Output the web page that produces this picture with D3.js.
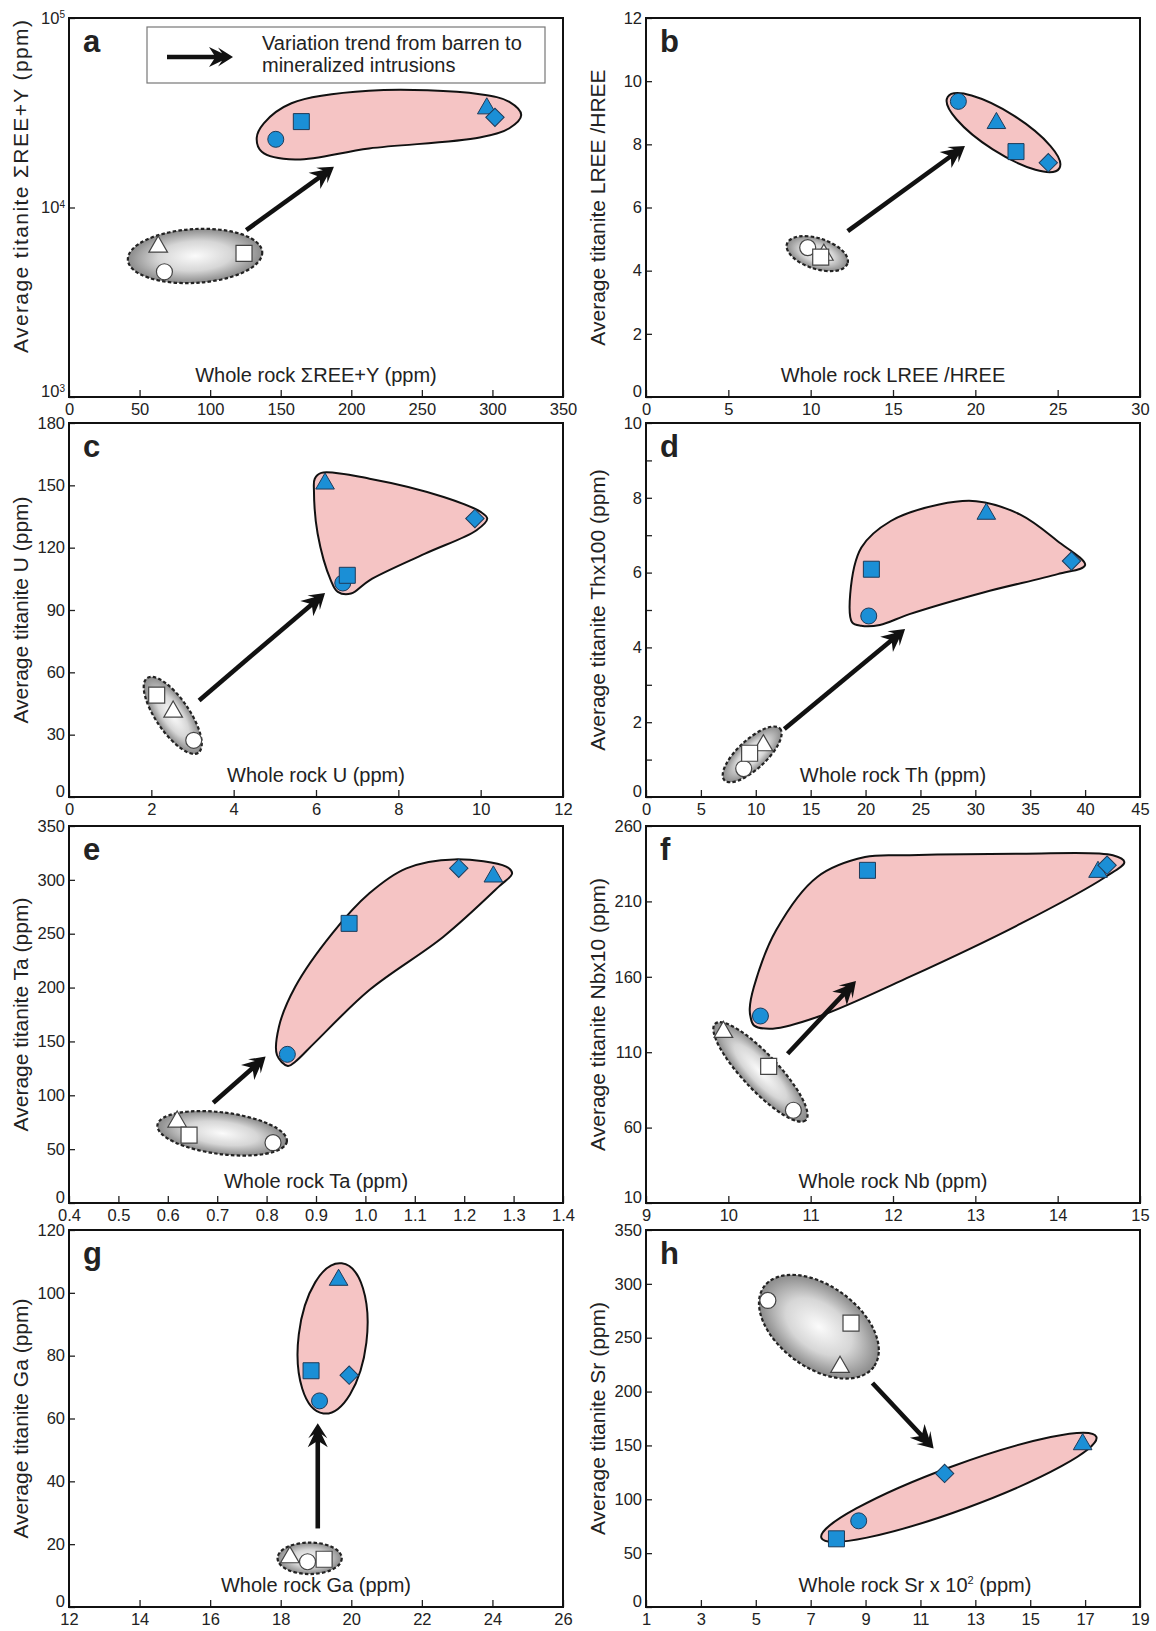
<!DOCTYPE html>
<html>
<head>
<meta charset="utf-8">
<script src="https://cdn.jsdelivr.net/npm/d3@7"></script>
<style>
  body { margin: 0; background: #fff; }
  svg { display: block; }
  text { font-family: "Liberation Sans", Arial, sans-serif; fill: #222; }
</style>
</head>
<body>
<div id="chart"></div>
<script>
var svgWidth = 1156;
var svgHeight = 1631;

// ---- data ----
// order of points in each "mineral" array: circle, square, triangle, diamond
// order of points in each "barren" array: triangle, circle, square
var mineralShapes = ["circle", "square", "triangle", "diamond"];
var barrenShapes = ["triangle", "circle", "square"];

var aMineral = [[146.5, 22900], [164.6, 28400], [296, 33300], [301.8, 29900]];
var aBarren = [[63.2, 6210], [67.6, 4580], [124, 5730]];
var bMineral = [[18.97, 9.36], [22.47, 7.77], [21.28, 8.67], [24.43, 7.42]];
var bBarren = [[10.8, 4.5], [9.82, 4.73], [10.61, 4.43]];
var cMineral = [[6.65, 103], [6.76, 106.7], [6.22, 150.8], [9.86, 134]];
var cBarren = [[2.53, 41], [3.03, 27.3], [2.13, 49]];
var dMineral = [[20.29, 4.84], [20.53, 6.09], [31.0, 7.57], [38.76, 6.31]];
var dBarren = [[10.69, 1.38], [8.9, 0.76], [9.44, 1.17]];
var eMineral = [[0.842, 138], [0.967, 259.6], [1.259, 303], [1.189, 310.7]];
var eBarren = [[0.619, 75.5], [0.813, 56], [0.643, 63]];
var fMineral = [[10.39, 134], [11.69, 230.6], [14.49, 229.5], [14.6, 234]];
var fBarren = [[9.94, 123.4], [10.79, 71.5], [10.49, 100.6]];
var gMineral = [[19.1, 65.6], [18.86, 75.2], [19.64, 104.1], [19.94, 73.8]];
var gBarren = [[18.26, 15.8], [18.76, 14.4], [19.23, 15.2]];
var hMineral = [[8.75, 80], [7.94, 63.3], [16.91, 151], [11.88, 124]];
var hBarren = [[8.07, 222.8], [5.44, 284.6], [8.47, 263.6]];

// trend arrows, [from, to] in data units
var aArrow = [[125.6, 7600], [187.7, 16400]];
var bArrow = [[12.25, 5.25], [19.37, 7.95]];
var cArrow = [[3.16, 46.5], [6.22, 98.2]];
var dArrow = [[12.6, 1.82], [23.6, 4.49]];
var eArrow = [[0.692, 93], [0.798, 136]];
var fArrow = [[10.72, 109], [11.55, 157.2]];
var gArrow = [[19.05, 25], [19.05, 58.5]];
var hArrow = [[9.25, 208], [11.48, 147.2]];

// outlines of the mineralized fields (data units)
var aPink = [[133, 23300], [138, 27800], [157.6, 35500], [212.5, 41300], [291, 39600], [312, 36100],
             [320.4, 30800], [312, 26200], [291, 23400], [212.6, 20500], [160.2, 17900], [136.6, 19700]];
var cPink = [[5.97, 153.2], [6.13, 156], [7.3, 153.2], [9.1, 144.4], [10.0, 137.2], [10.16, 134],
             [9.9, 128.4], [8.65, 117.1], [7.3, 104.3], [6.85, 97.9], [6.53, 98.7], [6.36, 104.3],
             [6.04, 126.7], [5.95, 147.6]];
var dPink = [[18.78, 4.67], [18.6, 5.42], [19.62, 6.67], [22.3, 7.38], [26.7, 7.82], [30.07, 7.91],
             [34.1, 7.55], [37.5, 6.84], [40.0, 6.2], [37.5, 5.96], [30.74, 5.47], [24.0, 4.89],
             [21.3, 4.6], [19.6, 4.58]];
var ePink = [[0.843, 127.2], [0.821, 137.4], [0.825, 163.7], [0.858, 200.8], [0.933, 250.4],
             [1.008, 287.5], [1.083, 310.7], [1.18, 319], [1.285, 312.2], [1.297, 306.1],
             [1.27, 293.7], [1.158, 247.2], [1.008, 197.7], [0.896, 148.2], [0.858, 131.2]];
var fPink = [[10.27, 133.3], [10.31, 127.8], [10.54, 125.6], [11.08, 133.3], [12.2, 159.9],
             [13.55, 195.2], [14.58, 226.2], [14.81, 236.1], [14.67, 240.6], [13.55, 241.6],
             [12.2, 240.6], [11.66, 239.4], [11.08, 226.2], [10.58, 190.8], [10.31, 153.2], [10.26, 138.9]];

// elliptic fields: centre, end of the long axis (data units), short/long axis ratio
var bPinkEll = { c: [21.71, 8.37], end: [25.1, 7.24], ratio: 0.3 };
var gPinkEll = { c: [19.47, 85.5], end: [19.73, 109.4], ratio: 0.45 };
var hPinkEll = { c: [12.4, 111.1], end: [17.41, 158], ratio: 0.15 };

var aGray = { c: [89.3, 5550], end: [136.9, 5820], ratio: 0.4 };
var bGray = { c: [10.4, 4.54], end: [12.24, 4.23], ratio: 0.48 };
var cGray = { c: [2.52, 39.3], end: [3.14, 21.3], ratio: 0.37 };
var dGray = { c: [9.67, 1.14], end: [12.2, 1.83], ratio: 0.38 };
var eGray = { c: [0.71, 64.7], end: [0.841, 57.1], ratio: 0.32 };
var fGray = { c: [10.39, 96.9], end: [10.94, 64.9], ratio: 0.27 };
var gGray = { c: [18.82, 15.5], end: [19.73, 15.5], ratio: 0.49 };
var hGray = { c: [7.3, 260.2], end: [9.3, 223], ratio: 0.6 };

var panels = [
  { id: "a", col: 0, row: 0, xDomain: [0, 350], yDomain: [1e3, 1e5], log: true,
    xTicks: d3.range(0, 351, 50), yTicks: [1e3, 1e4, 1e5],
    xLabel: "Whole rock ΣREE+Y (ppm)", yLabel: "Average titanite ΣREE+Y (ppm)",
    mineral: aMineral, barren: aBarren, arrow: aArrow, pink: aPink, gray: aGray },
  { id: "b", col: 1, row: 0, xDomain: [0, 30], yDomain: [0, 12],
    xTicks: d3.range(0, 31, 5), yTicks: d3.range(0, 13, 2),
    xLabel: "Whole rock LREE /HREE", yLabel: "Average titanite LREE /HREE",
    mineral: bMineral, barren: bBarren, arrow: bArrow, pinkEll: bPinkEll, gray: bGray },
  { id: "c", col: 0, row: 1, xDomain: [0, 12], yDomain: [0, 180],
    xTicks: d3.range(0, 13, 2), yTicks: d3.range(0, 181, 30),
    xLabel: "Whole rock U (ppm)", yLabel: "Average titanite U (ppm)",
    mineral: cMineral, barren: cBarren, arrow: cArrow, pink: cPink, gray: cGray },
  { id: "d", col: 1, row: 1, xDomain: [0, 45], yDomain: [0, 10],
    xTicks: d3.range(0, 46, 5), yTicks: d3.range(0, 11, 1), yEvery: 2,
    xLabel: "Whole rock Th (ppm)", yLabel: "Average titanite Thx100 (ppm)",
    mineral: dMineral, barren: dBarren, arrow: dArrow, pink: dPink, gray: dGray },
  { id: "e", col: 0, row: 2, xDomain: [0.4, 1.4], yDomain: [0, 350],
    xTicks: d3.range(4, 15).map(function(v) { return v / 10; }), yTicks: d3.range(0, 351, 50), xFmt: ".1f",
    xLabel: "Whole rock Ta (ppm)", yLabel: "Average titanite Ta (ppm)",
    mineral: eMineral, barren: eBarren, arrow: eArrow, pink: ePink, gray: eGray },
  { id: "f", col: 1, row: 2, xDomain: [9, 15], yDomain: [10, 260],
    xTicks: d3.range(9, 16, 1), yTicks: d3.range(10, 261, 50),
    xLabel: "Whole rock Nb (ppm)", yLabel: "Average titanite Nbx10 (ppm)",
    mineral: fMineral, barren: fBarren, arrow: fArrow, pink: fPink, gray: fGray },
  { id: "g", col: 0, row: 3, xDomain: [12, 26], yDomain: [0, 120],
    xTicks: d3.range(12, 27, 2), yTicks: d3.range(0, 121, 20),
    xLabel: "Whole rock Ga (ppm)", yLabel: "Average titanite Ga (ppm)",
    mineral: gMineral, barren: gBarren, arrow: gArrow, pinkEll: gPinkEll, gray: gGray },
  { id: "h", col: 1, row: 3, xDomain: [1, 19], yDomain: [0, 350],
    xTicks: d3.range(1, 20, 2), yTicks: d3.range(0, 351, 50),
    xLabel: "Whole rock Sr x 10", xSup: "2", xLabelEnd: " (ppm)", yLabel: "Average titanite Sr (ppm)",
    mineral: hMineral, barren: hBarren, arrow: hArrow, pinkEll: hPinkEll, gray: hGray }
];

// ---- layout ----
var colLeft = [69, 646];
var plotWidth = 494;
var rowTop = [18, 423, 826, 1230];
var rowHeight = [379, 374, 377, 377];

var blue = "#1b8fd6";
var pinkFill = "#f5c4c4";

var svg = d3.select("#chart")
  .append("svg")
  .attr("width", svgWidth)
  .attr("height", svgHeight);

var defs = svg.append("defs");
var grad = defs.append("radialGradient").attr("id", "grayGrad")
  .attr("cx", "50%").attr("cy", "50%").attr("r", "50%");
grad.append("stop").attr("offset", "0%").attr("stop-color", "#fbfbfb");
grad.append("stop").attr("offset", "55%").attr("stop-color", "#d6d6d6");
grad.append("stop").attr("offset", "100%").attr("stop-color", "#8a8a8a");

function symbolPath(shape) {
  if (shape === "circle") return d3.symbol().type(d3.symbolCircle).size(Math.PI * 8 * 8)();
  if (shape === "square") return d3.symbol().type(d3.symbolSquare).size(16 * 16)();
  if (shape === "triangle") return d3.symbol().type(d3.symbolTriangle).size(150)();
  return d3.symbol().type(d3.symbolSquare).size(13 * 13)();
}

// double-barbed arrow head, tip at origin pointing along +x
var headPts = [[0, 0], [-15, -9.5], [-11, -3.8], [-24, -10], [-19, -2.3], [-19, 2.3], [-24, 10], [-11, 3.8], [-15, 9.5]];

function drawArrow(g, x1, y1, x2, y2) {
  var ang = Math.atan2(y2 - y1, x2 - x1);
  var len = Math.hypot(x2 - x1, y2 - y1);
  var a = g.append("g").attr("transform", "translate(" + x1 + "," + y1 + ") rotate(" + (ang * 180 / Math.PI) + ")");
  a.append("line").attr("x1", 0).attr("y1", 0).attr("x2", len - 18).attr("y2", 0)
    .attr("stroke", "#111").attr("stroke-width", 4.6);
  a.append("path").attr("d", "M" + headPts.map(function(p) { return (p[0] + len) + "," + p[1]; }).join("L") + "Z")
    .attr("fill", "#111");
}

function drawEllipse(g, e, x, y) {
  var cx = x(e.c[0]), cy = y(e.c[1]);
  var ex = x(e.end[0]), ey = y(e.end[1]);
  var rx = Math.hypot(ex - cx, ey - cy);
  var ang = Math.atan2(ey - cy, ex - cx) * 180 / Math.PI;
  return g.append("ellipse")
    .attr("cx", 0).attr("cy", 0).attr("rx", rx).attr("ry", rx * e.ratio)
    .attr("transform", "translate(" + cx + "," + cy + ") rotate(" + ang + ")");
}

panels.forEach(function(p) {
  var left = colLeft[p.col], top = rowTop[p.row], h = rowHeight[p.row];
  var bottom = top + h, right = left + plotWidth;

  var x = d3.scaleLinear().domain(p.xDomain).range([left, right]);
  var y = (p.log ? d3.scaleLog() : d3.scaleLinear()).domain(p.yDomain).range([bottom, top]);

  var g = svg.append("g").attr("class", "panel-" + p.id);

  // mineralized field
  if (p.pink) {
    g.append("path")
      .attr("d", d3.line().x(function(d) { return x(d[0]); }).y(function(d) { return y(d[1]); })
        .curve(d3.curveCatmullRomClosed.alpha(0.5))(p.pink))
      .attr("fill", pinkFill).attr("stroke", "#111").attr("stroke-width", 2);
  }
  if (p.pinkEll) {
    drawEllipse(g, p.pinkEll, x, y).attr("fill", pinkFill).attr("stroke", "#111").attr("stroke-width", 2);
  }
  // barren field
  drawEllipse(g, p.gray, x, y)
    .attr("fill", "url(#grayGrad)").attr("stroke", "#222").attr("stroke-width", 2.2)
    .attr("stroke-dasharray", "3.5,2.2");

  // trend arrow
  drawArrow(g, x(p.arrow[0][0]), y(p.arrow[0][1]), x(p.arrow[1][0]), y(p.arrow[1][1]));

  // points
  g.selectAll(".bar").data(p.barren).enter().append("path")
    .attr("d", function(d, i) { return symbolPath(barrenShapes[i]); })
    .attr("transform", function(d, i) {
      return "translate(" + x(d[0]) + "," + y(d[1]) + ")" + (barrenShapes[i] === "diamond" ? " rotate(45)" : "");
    })
    .attr("fill", "#fff").attr("stroke", "#444").attr("stroke-width", 1.2);
  g.selectAll(".min").data(p.mineral).enter().append("path")
    .attr("d", function(d, i) { return symbolPath(mineralShapes[i]); })
    .attr("transform", function(d, i) {
      return "translate(" + x(d[0]) + "," + y(d[1]) + ")" + (mineralShapes[i] === "diamond" ? " rotate(45)" : "");
    })
    .attr("fill", blue).attr("stroke", "#1e3a58").attr("stroke-width", 1);

  // axes
  var fmt = p.xFmt ? d3.format(p.xFmt) : d3.format("d");
  var xg = g.append("g").attr("transform", "translate(0," + bottom + ")")
    .call(d3.axisBottom(x).tickValues(p.xTicks).tickSize(-7).tickPadding(6).tickFormat(fmt));
  xg.select(".domain").remove();
  xg.attr("font-size", 16.5).attr("font-family", null).attr("color", "#222");
  xg.selectAll("line").attr("stroke-width", 1.3);

  var yAxis = d3.axisLeft(y).tickValues(p.yTicks).tickSize(-6).tickPadding(4);
  if (p.log) yAxis.tickFormat(function() { return ""; });
  else if (p.yEvery) yAxis.tickFormat(function(d) { return d % p.yEvery === 0 ? d : ""; });
  else yAxis.tickFormat(d3.format("d"));
  var yg = g.append("g").attr("transform", "translate(" + left + ",0)").call(yAxis);
  yg.select(".domain").remove();
  yg.attr("font-size", 16.5).attr("font-family", null).attr("color", "#222");
  yg.selectAll("line").attr("stroke-width", 1.3);
  // lowest label sits a touch higher so it clears the x tick labels below
  yg.selectAll(".tick text").filter(function(d) { return d === p.yDomain[0]; }).attr("dy", "-0.02em");
  if (p.log) {
    yg.selectAll(".tick text").each(function(d) {
      var t = d3.select(this);
      t.text("10");
      t.append("tspan").attr("dy", "-0.55em").attr("font-size", 10).text(Math.round(Math.log10(d)));
    });
  }

  // frame
  g.append("rect").attr("x", left).attr("y", top).attr("width", plotWidth).attr("height", h)
    .attr("fill", "none").attr("stroke", "#111").attr("stroke-width", 2);

  // axis titles
  var xt = g.append("text")
    .attr("x", (left + right) / 2 + (p.xSup ? 22 : 0)).attr("y", bottom - 15)
    .attr("text-anchor", "middle").attr("font-size", 20).text(p.xLabel);
  if (p.xSup) {
    xt.append("tspan").attr("dy", -8).attr("font-size", 11).text(p.xSup);
    xt.append("tspan").attr("dy", 8).text(p.xLabelEnd);
  }
  var ycen = (top + bottom) / 2 + (p.id === "a" ? -21 : 0);
  var yt = g.append("text")
    .attr("transform", "translate(" + (left - 41) + "," + ycen + ") rotate(-90)")
    .attr("text-anchor", "middle").attr("font-size", 21).text(p.yLabel);
  if (p.id === "a") yt.attr("textLength", 333).attr("lengthAdjust", "spacing");

  // panel letter
  g.append("text").attr("x", left + 14).attr("y", top + 34)
    .attr("font-size", 31).attr("font-weight", "bold").attr("fill", "#111").text(p.id);

  // legend (panel a only)
  if (p.id === "a") {
    var lg = g.append("g");
    lg.append("rect").attr("x", left + 78).attr("y", top + 9).attr("width", 398).attr("height", 56)
      .attr("fill", "#fff").attr("stroke", "#777").attr("stroke-width", 1.2);
    drawArrow(lg, left + 98, top + 39, left + 164, top + 39);
    lg.append("text").attr("x", left + 193).attr("y", top + 32).attr("font-size", 20)
      .text("Variation trend from barren to");
    lg.append("text").attr("x", left + 193).attr("y", top + 54).attr("font-size", 20)
      .text("mineralized intrusions");
  }
});
</script>
</body>
</html>
